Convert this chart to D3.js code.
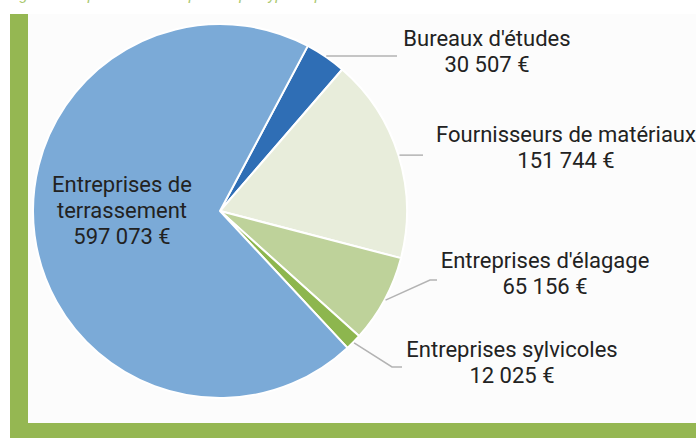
<!DOCTYPE html>
<html><head><meta charset="utf-8">
<script src="https://cdn.jsdelivr.net/npm/d3@7"></script>
<style>
html,body{margin:0;padding:0;background:#fff;}
svg{display:block;}
text{font-family:Roboto,"Noto Sans",sans-serif;}
</style></head>
<body>
<svg id="chart" width="696" height="438"></svg>
<script>
// ---- data ----
const categories = ["Bureaux d'études", "Fournisseurs de matériaux", "Entreprises d'élagage", "Entreprises sylvicoles", "Entreprises de terrassement"];
const values = [30507, 151744, 65156, 12025, 597073];
const valueLabels = ["30 507 €", "151 744 €", "65 156 €", "12 025 €", "597 073 €"];
const colors = ["#2f6eb5", "#e8eddb", "#bed29a", "#8db64e", "#7baad7"];
const titleText = "Figure 3 : Répartition des dépenses par type de prestataire";

// ---- layout ----
const W = 696, H = 438;
const cx = 220, cy = 211, R = 187;
const startDeg = 28;
// label layout (centre x, first baseline y, leader elbow/end points)
const labelLayout = [
  {x: 487, y: 46, lines: [[397, null]]},
  {x: 566, y: 142, lines: [[423, null]]},
  {x: 545, y: 268, lines: [[430, 280], [437, 280]]},
  {x: 512, y: 357, lines: [[392, 367], [402, 367]]},
  {x: 122, y: 192, inside: true}
];
const lineGap = 26;

const svg = d3.select("#chart");

// frame
svg.append("rect").attr("x", 10).attr("y", 14).attr("width", W - 10).attr("height", H - 14).attr("fill", "#95b752");
svg.append("rect").attr("x", 28).attr("y", 14).attr("width", W - 28).attr("height", 423 - 14).attr("fill", "#fcfcfc");

// cut-off title
svg.append("text").attr("x", 8).attr("y", 0).attr("fill", "#a9c86e")
  .style("font-size", "15px").style("font-style", "italic").text(titleText);

const data = categories.map((c, i) => ({name: c, value: values[i], label: valueLabels[i], color: colors[i], layout: labelLayout[i]}));

const a0 = startDeg * Math.PI / 180;
const pie = d3.pie().sort(null).value(d => d.value).startAngle(a0).endAngle(a0 + 2 * Math.PI);
const arcs = pie(data);
const arc = d3.arc().innerRadius(0).outerRadius(R);

const g = svg.append("g").attr("transform", `translate(${cx},${cy})`);
g.selectAll("path.slice").data(arcs).join("path")
  .attr("class", "slice")
  .attr("d", arc)
  .attr("fill", d => d.data.color)
  .attr("stroke", "#ffffff")
  .attr("stroke-width", 2)
  .attr("stroke-linejoin", "round");

// leader lines
arcs.forEach(a => {
  const L = a.data.layout;
  if (L.inside) return;
  const mid = (a.startAngle + a.endAngle) / 2;
  const sx = cx + (R + 1) * Math.sin(mid);
  const sy = cy - (R + 1) * Math.cos(mid);
  const pts = [[sx, sy]];
  L.lines.forEach(p => pts.push([p[0], p[1] == null ? sy : p[1]]));
  svg.append("path")
    .attr("d", d3.line()(pts))
    .attr("fill", "none")
    .attr("stroke", "#b3b3b3")
    .attr("stroke-width", 1.5);
});

// labels
arcs.forEach(a => {
  const L = a.data.layout;
  const name = a.data.name;
  let lines = [name, a.data.label];
  if (L.inside) lines = ["Entreprises de", "terrassement", a.data.label];
  const t = svg.append("text")
    .attr("text-anchor", "middle")
    .attr("fill", "#222222")
    .style("font-size", "22px");
  lines.forEach((s, i) => {
    t.append("tspan").attr("x", L.x).attr("y", L.y + i * lineGap).text(s);
  });
});
</script>
</body></html>
